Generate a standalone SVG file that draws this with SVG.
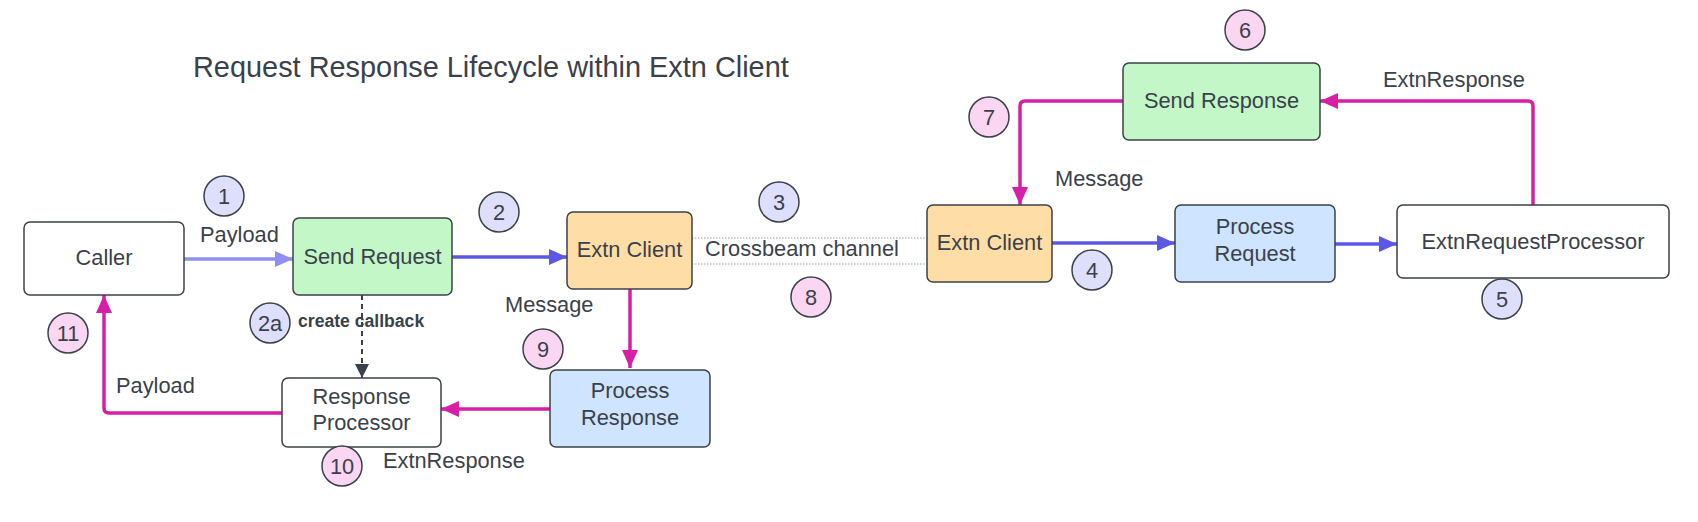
<svg xmlns="http://www.w3.org/2000/svg" width="1698" height="522" viewBox="0 0 1698 522">
<style>
text{font-family:"Liberation Sans",Arial,sans-serif;fill:#3a414a;font-size:21.8px}
.c{text-anchor:middle}
.box{stroke:#3a414a;stroke-width:1.5}
.w{fill:#ffffff}.g{fill:#c3f7c8}.o{fill:#ffdda6}.b{fill:#cfe4ff}
.cp{fill:#dedffb;stroke:#3a414a;stroke-width:1.5}
.ck{fill:#fbd6f3;stroke:#3a414a;stroke-width:1.5}
.pk{fill:none;stroke:#d61fa6;stroke-width:3.5;stroke-linejoin:round}
.bl{fill:none;stroke:#5b58e8;stroke-width:3.5}
.lp{fill:none;stroke:#8f8ef2;stroke-width:3.5}
.dot{fill:none;stroke:#9aa0a6;stroke-width:1;stroke-dasharray:1.5,1.5}
</style>
<defs>
<marker id="ap" markerUnits="userSpaceOnUse" markerWidth="20" markerHeight="16" refX="18" refY="8" orient="auto"><path d="M0,0 L18,8 L0,16 Z" fill="#d61fa6"/></marker>
<marker id="ab" markerUnits="userSpaceOnUse" markerWidth="20" markerHeight="16" refX="18" refY="8" orient="auto"><path d="M0,0 L18,8 L0,16 Z" fill="#5b58e8"/></marker>
<marker id="al" markerUnits="userSpaceOnUse" markerWidth="20" markerHeight="16" refX="18" refY="8" orient="auto"><path d="M0,0 L18,8 L0,16 Z" fill="#8f8ef2"/></marker>
<marker id="ad" markerUnits="userSpaceOnUse" markerWidth="16" markerHeight="14" refX="14" refY="7" orient="auto"><path d="M0,0 L14,7 L0,14 Z" fill="#3a414a"/></marker>
</defs>
<rect width="1698" height="522" fill="#ffffff"/>
<text x="193" y="77" style="font-size:28.9px">Request Response Lifecycle within Extn Client</text>

<g id="connectors">
<path class="lp" d="M184,259 H293" marker-end="url(#al)"/>
<path class="bl" d="M452,257 H567" marker-end="url(#ab)"/>
<path class="dot" d="M692,238 H927 M692,264 H927"/>
<path class="bl" d="M1052,243 H1175" marker-end="url(#ab)"/>
<path class="bl" d="M1335,244 H1397" marker-end="url(#ab)"/>
<path class="pk" d="M1533,205 V106 Q1533,101 1528,101 H1320" marker-end="url(#ap)"/>
<path class="pk" d="M1123,101 H1025 Q1020,101 1020,106 V205" marker-end="url(#ap)"/>
<path class="pk" d="M630,289 V368" marker-end="url(#ap)"/>
<path class="pk" d="M550,409 H441" marker-end="url(#ap)"/>
<path class="pk" d="M282,413 H109 Q104,413 104,408 V295" marker-end="url(#ap)"/>
<path d="M362,295 V378" fill="none" stroke="#3a414a" stroke-width="2" stroke-dasharray="5,4" marker-end="url(#ad)"/>
<text x="200" y="242">Payload</text>
<text x="116" y="393">Payload</text>
<text x="505" y="312">Message</text>
<text x="1055" y="186">Message</text>
<text x="802" y="256" class="c">Crossbeam channel</text>
<text x="383" y="468">ExtnResponse</text>
<text x="1383" y="87">ExtnResponse</text>
<text x="298" y="327" style="font-weight:bold;font-size:17.6px">create callback</text>
</g>

<g id="caller"><rect class="box w" x="24" y="222" width="160" height="73" rx="6"/><text x="104" y="265" class="c">Caller</text></g>
<g id="send-request"><rect class="box g" x="293" y="218" width="159" height="77" rx="6"/><text x="372.5" y="264" class="c">Send Request</text></g>
<g id="extn-client-left"><rect class="box o" x="567" y="212" width="125" height="77" rx="6"/><text x="629.5" y="257" class="c">Extn Client</text></g>
<g id="extn-client-right"><rect class="box o" x="927" y="205" width="125" height="77" rx="6"/><text x="989.5" y="250" class="c">Extn Client</text></g>
<g id="process-request"><rect class="box b" x="1175" y="205" width="160" height="77" rx="6"/><text x="1255" y="234" class="c">Process</text><text x="1255" y="261" class="c">Request</text></g>
<g id="extn-request-processor"><rect class="box w" x="1397" y="205" width="272" height="73" rx="6"/><text x="1533" y="249" class="c">ExtnRequestProcessor</text></g>
<g id="send-response"><rect class="box g" x="1123" y="63" width="197" height="77" rx="6"/><text x="1221.5" y="108" class="c">Send Response</text></g>
<g id="process-response"><rect class="box b" x="550" y="370" width="160" height="77" rx="6"/><text x="630" y="398" class="c">Process</text><text x="630" y="425" class="c">Response</text></g>
<g id="response-processor"><rect class="box w" x="282" y="378" width="159" height="69" rx="6"/><text x="361.5" y="404" class="c">Response</text><text x="361.5" y="430" class="c">Processor</text></g>

<g id="step-1"><circle class="cp" cx="224" cy="196" r="20"/><text x="224" y="204" class="c">1</text></g>
<g id="step-2"><circle class="cp" cx="499" cy="212" r="20"/><text x="499" y="220" class="c">2</text></g>
<g id="step-2a"><circle class="cp" cx="270" cy="323" r="20"/><text x="270" y="331" class="c">2a</text></g>
<g id="step-3"><circle class="cp" cx="779" cy="202" r="20"/><text x="779" y="210" class="c">3</text></g>
<g id="step-4"><circle class="cp" cx="1092" cy="270" r="20"/><text x="1092" y="278" class="c">4</text></g>
<g id="step-5"><circle class="cp" cx="1502" cy="299" r="20"/><text x="1502" y="307" class="c">5</text></g>
<g id="step-6"><circle class="ck" cx="1245" cy="30" r="20"/><text x="1245" y="38" class="c">6</text></g>
<g id="step-7"><circle class="ck" cx="989" cy="117" r="20"/><text x="989" y="125" class="c">7</text></g>
<g id="step-8"><circle class="ck" cx="811" cy="297" r="20"/><text x="811" y="305" class="c">8</text></g>
<g id="step-9"><circle class="ck" cx="543" cy="349" r="20"/><text x="543" y="357" class="c">9</text></g>
<g id="step-10"><circle class="ck" cx="342" cy="466" r="20"/><text x="342" y="474" class="c">10</text></g>
<g id="step-11"><circle class="ck" cx="68" cy="333" r="20"/><text x="68" y="341" class="c">11</text></g>
</svg>
